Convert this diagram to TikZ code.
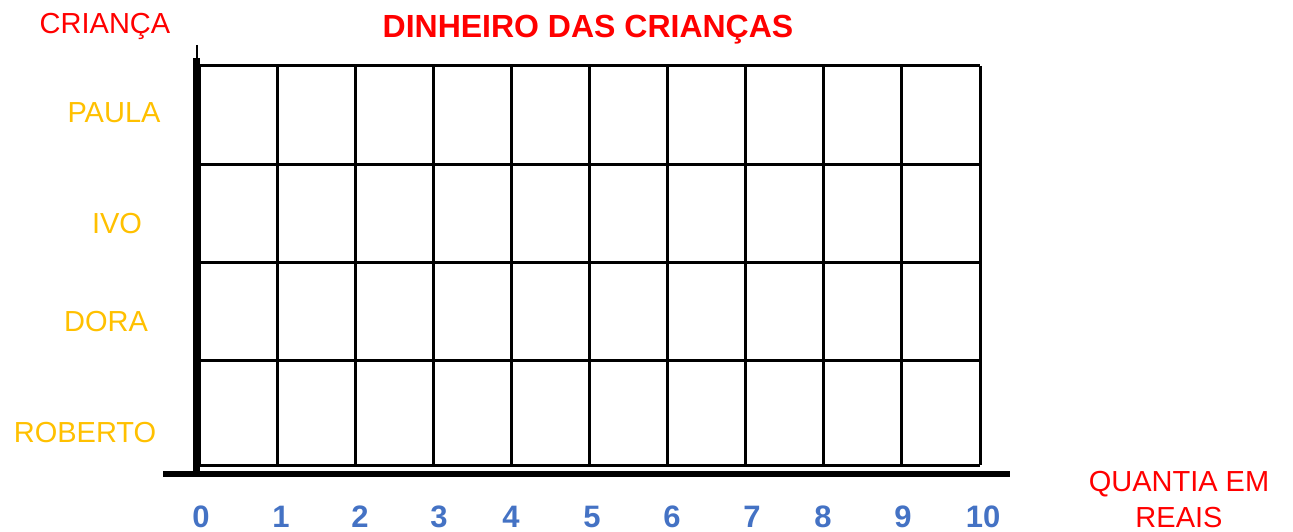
\documentclass[tikz,border=0pt]{standalone}
\usepackage{fontspec}
\setmainfont{Liberation Sans}
\definecolor{titlered}{RGB}{255,0,0}
\definecolor{namegold}{RGB}{255,192,0}
\definecolor{numblue}{RGB}{68,114,196}
\begin{document}
\begin{tikzpicture}[x=1pt,y=-1pt,
    childname/.style={text=namegold,font=\fontsize{29}{34}\selectfont,inner sep=0pt},
    num/.style={text=numblue,font=\fontsize{31}{36}\selectfont\bfseries,inner sep=0pt},
    gridline/.style={line width=3pt}]
  \useasboundingbox (0,0) rectangle (1293,532);
  % grid of the chart
  \foreach \i in {0,...,10}
    {
      \draw[gridline] (199+78.1*\i,66) -- (199+78.1*\i,465);
    }
  \foreach \y in {66,164,262,360,465}
    {
      \draw[gridline] (199,\y) -- (980,\y);
    }
  % axes
  \coordinate (ytop) at (197,45);
  \coordinate (ybar) at (196.5,58);
  \coordinate (orig) at (196.5,474);
  \coordinate (xend) at (1010,474);
  \coordinate (xstart) at (163,474);
  \draw[line width=2pt] (ytop) -- (197,60);
  \draw[line width=7pt] (ybar) -- (orig);
  \draw[line width=6pt] (xstart) -- (xend);
  % labels
  \node[text=titlered,font=\fontsize{29}{34}\selectfont] (ylab) at (105,26) {CRIANÇA};
  \node[text=titlered,font=\fontsize{32}{36}\selectfont\bfseries] (title) at (588,30) {DINHEIRO DAS CRIANÇAS};
  \node[text=titlered,font=\fontsize{29}{36}\selectfont,align=center] (xlab) at (1179,500) {QUANTIA EM\\REAIS};
  \node[childname] (paula) at (114,113) {PAULA};
  \node[childname] (ivo) at (117,224) {IVO};
  \node[childname] (dora) at (106,322) {DORA};
  \node[childname] (roberto) at (85,433) {ROBERTO};
  \foreach \n/\x in {0/201,1/281,2/360,3/439,4/511,5/592,6/672,7/752,8/823,9/903,10/983}
    {
      \node[num] (v\n) at (\x,517) {\n};
    }
\end{tikzpicture}
\end{document}
